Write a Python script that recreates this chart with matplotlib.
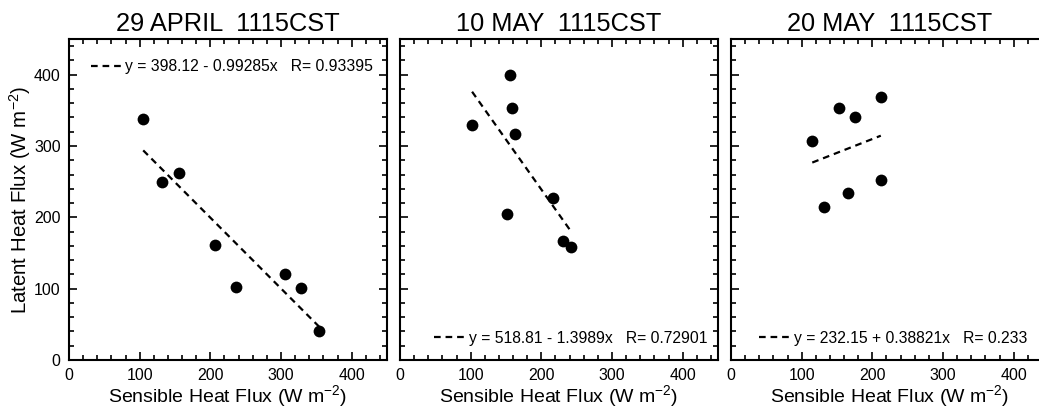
import matplotlib
matplotlib.use("Agg")
import matplotlib.pyplot as plt
from matplotlib.ticker import MultipleLocator
from matplotlib.lines import Line2D

plt.rcParams['font.family'] = ['Liberation Sans', 'DejaVu Sans']
plt.rcParams['mathtext.fontset'] = 'custom'
plt.rcParams['mathtext.rm'] = 'Liberation Sans'
plt.rcParams['mathtext.it'] = 'Liberation Sans:italic'

titles = ["29 APRIL  1115CST", "10 MAY  1115CST", "20 MAY  1115CST"]

apr29_sh = [105, 131, 156, 206, 236, 306, 328, 354]
apr29_lh = [338, 249, 262, 161, 102, 121, 101, 41]

may10_sh = [155, 159, 102, 163, 216, 152, 231, 242]
may10_lh = [400, 353, 329, 317, 227, 205, 167, 158]

may20_sh = [115, 153, 175, 212, 212, 165, 132]
may20_lh = [307, 353, 340, 368, 252, 234, 215]

fit_intercepts = [398.12, 518.81, 232.15]
fit_slopes = [-0.99285, -1.3989, 0.38821]
fit_labels = ["y = 398.12 - 0.99285x   R= 0.93395",
              "y = 518.81 - 1.3989x   R= 0.72901",
              "y = 232.15 + 0.38821x   R= 0.233"]

xs = [apr29_sh, may10_sh, may20_sh]
ys = [apr29_lh, may10_lh, may20_lh]

W, H = 1039, 408
fig = plt.figure(figsize=(W / 100, H / 100), dpi=100)

lefts = [69, 400, 731]
pw = 318
bottom_px, top_px = 360, 39
leg_anchor = [(0.068, 0.914), (0.107, 0.0685), (0.088, 0.0685)]
dash = (3, 2.2)

for i in range(3):
    ax = fig.add_axes([lefts[i] / W, (H - bottom_px) / H, pw / W, (bottom_px - top_px) / H])
    ax.scatter(xs[i], ys[i], s=72, color='black', zorder=3, linewidths=0)
    x0, x1 = min(xs[i]), max(xs[i])
    a, b = fit_intercepts[i], fit_slopes[i]
    ax.plot([x0, x1], [a + b * x0, a + b * x1], color='black', lw=1.6,
            dashes=dash)
    h = Line2D([], [], color='black', lw=1.6, dashes=dash)
    ax.legend([h], [fit_labels[i]], loc='center left', frameon=False,
              fontsize=11.3, handlelength=1.95, handletextpad=0.25,
              borderpad=0, borderaxespad=0, bbox_to_anchor=leg_anchor[i])
    ax.set_xlim(0, 450)
    ax.set_ylim(0, 450)
    ax.xaxis.set_major_locator(MultipleLocator(100))
    ax.xaxis.set_minor_locator(MultipleLocator(20))
    ax.yaxis.set_major_locator(MultipleLocator(100))
    ax.yaxis.set_minor_locator(MultipleLocator(20))
    ax.tick_params(which='both', direction='in', top=True, right=True,
                   labelsize=11.5, width=1.2, pad=6)
    ax.tick_params(which='major', length=6)
    ax.tick_params(which='minor', length=3.5)
    for sp in ax.spines.values():
        sp.set_linewidth(1.5)
    ax.set_title(titles[i], fontsize=18.3, pad=6)
    ax.set_xlabel(r"Sensible Heat Flux (W m$^{-2}$)", fontsize=14, labelpad=0)
    if i == 0:
        ax.set_ylabel(r"Latent Heat Flux (W m$^{-2}$)", fontsize=14.7, labelpad=1)
    else:
        ax.tick_params(labelleft=False)

fig.savefig("out.png", dpi=100)
